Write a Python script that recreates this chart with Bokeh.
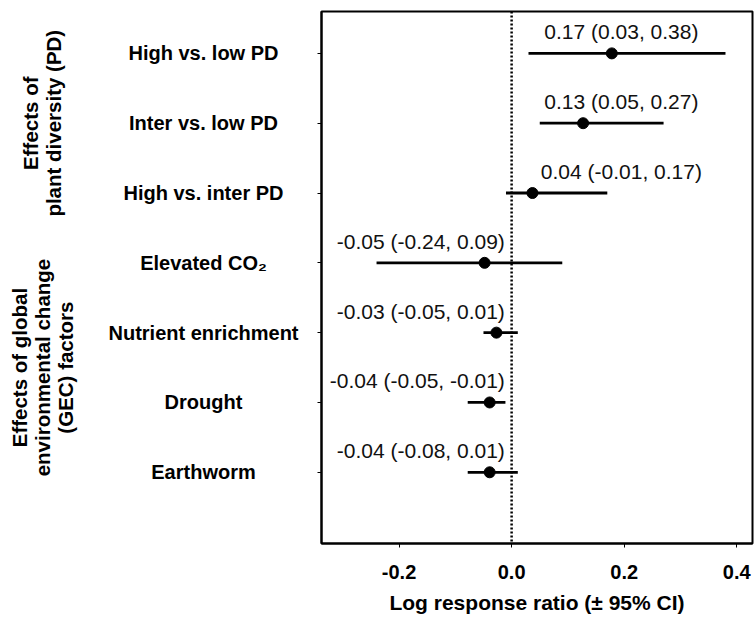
import math
from bokeh.plotting import figure
from bokeh.layouts import row
from bokeh.models import Range1d, FixedTicker, Span, ColumnDataSource
from bokeh.core.properties import value
from bokeh.embed import file_html
from bokeh.resources import INLINE

# ---- data ----
categories = ["High vs. low PD", "Inter vs. low PD", "High vs. inter PD",
              "Elevated CO\u2082", "Nutrient enrichment", "Drought", "Earthworm"]
estimates = [0.178, 0.127, 0.037, -0.048, -0.027, -0.039, -0.039]
lower = [0.03, 0.05, -0.01, -0.24, -0.05, -0.078, -0.078]
upper = [0.38, 0.27, 0.17, 0.09, 0.011, -0.011, 0.011]
ci_labels = ["0.17 (0.03, 0.38)", "0.13 (0.05, 0.27)", "0.04 (-0.01, 0.17)",
             "-0.05 (-0.24, 0.09)", "-0.03 (-0.05, 0.01)", "-0.04 (-0.05, -0.01)",
             "-0.04 (-0.08, 0.01)"]
group_labels = ["Effects of\nplant diversity (PD)",
                "Effects of global\nenvironmental change\n(GEC) factors"]
group_sizes = [3, 4]
x_ticks = [-0.2, 0.0, 0.2, 0.4]
x_title = "Log response ratio (\u00b1 95% CI)"

FONT = "Liberation Sans"
LEFT_W = 311
TOP, BOTTOM, H = 11, 82, 625
n = len(categories)
rows = [n - i for i in range(n)]
Y_RANGE = (-0.02, 7.6)

# ---------------- main forest plot ----------------
p = figure(width=755 - LEFT_W, height=H, output_backend="svg", toolbar_location=None,
           x_range=Range1d(-0.3378, 0.428), y_range=Range1d(*Y_RANGE),
           min_border_left=10, min_border_right=3, min_border_top=TOP,
           min_border_bottom=BOTTOM)
p.background_fill_color = "white"
p.border_fill_color = "white"
p.outline_line_color = "black"
p.outline_line_width = 2
p.xgrid.visible = False
p.ygrid.visible = False

p.xaxis.ticker = FixedTicker(ticks=x_ticks)
p.xaxis.major_label_overrides = {t: f"{t:.1f}" for t in x_ticks}
p.xaxis.major_tick_in = 0
p.xaxis.major_tick_out = 4
p.xaxis.minor_tick_line_color = None
p.xaxis.axis_line_width = 2
p.xaxis.major_label_text_font = FONT
p.xaxis.major_label_text_font_style = "bold"
p.xaxis.major_label_text_font_size = "20px"
p.xaxis.major_label_text_color = "black"
p.xaxis.major_label_standoff = 17
p.xaxis.axis_label = x_title
p.xaxis.axis_label_text_font = FONT
p.xaxis.axis_label_text_font_style = "bold"
p.xaxis.axis_label_text_font_size = "21px"
p.xaxis.axis_label_text_color = "black"
p.xaxis.axis_label_standoff = 9

p.yaxis.ticker = FixedTicker(ticks=rows)
p.yaxis.major_label_overrides = {r: "" for r in rows}
p.yaxis.major_tick_in = 0
p.yaxis.major_tick_out = 4
p.yaxis.minor_tick_line_color = None
p.yaxis.axis_line_width = 2

p.add_layout(Span(location=0, dimension="height", line_color="black",
                  line_width=2.5, line_dash="2 2"))

src = ColumnDataSource(dict(y=rows, est=estimates, lo=lower, hi=upper))
p.segment(x0="lo", y0="y", x1="hi", y1="y", source=src, line_color="black",
          line_width=2.8)
p.scatter(x="est", y="y", source=src, size=11, fill_color="black",
          line_color="black")

pos = [i for i in range(n) if estimates[i] > 0]
neg = [i for i in range(n) if estimates[i] <= 0]
src_pos = ColumnDataSource(dict(x=[0.195] * len(pos), y=[rows[i] + 0.31 for i in pos],
                                t=[ci_labels[i] for i in pos]))
src_neg = ColumnDataSource(dict(x=[-0.012] * len(neg), y=[rows[i] + 0.31 for i in neg],
                                t=[ci_labels[i] for i in neg]))
p.text(x="x", y="y", text="t", source=src_pos, text_align="center",
       text_baseline="middle", text_font=value(FONT), text_font_size="21px",
       text_color="#111111")
p.text(x="x", y="y", text="t", source=src_neg, text_align="right",
       text_baseline="middle", text_font=value(FONT), text_font_size="21px",
       text_color="#111111")

# ---------------- left label panel ----------------
lp = figure(width=LEFT_W, height=H, output_backend="svg", toolbar_location=None,
            x_range=Range1d(0, LEFT_W), y_range=Range1d(*Y_RANGE),
            min_border_left=0, min_border_right=0, min_border_top=TOP,
            min_border_bottom=BOTTOM)
lp.axis.visible = False
lp.grid.visible = False
lp.outline_line_color = None
lp.background_fill_color = "white"
lp.border_fill_color = "white"

lp.text(x=[203] * n, y=rows, text=categories, text_align="center",
        text_baseline="middle", text_font=value(FONT), text_font_style="bold",
        text_font_size="20px", text_color="black")

gx = [41, 42]
gy = []
start = 0
for s in group_sizes:
    ys = rows[start:start + s]
    gy.append(sum(ys) / len(ys))
    start += s
lp.text(x=gx, y=gy, text=group_labels, angle=math.pi / 2, text_align="center",
        text_baseline="middle", text_font=value(FONT), text_font_style="bold",
        text_font_size="20.5px", text_line_height=1.0, text_color="black")

layout = row(lp, p, spacing=0)
open("out.html", "w").write(file_html(layout, INLINE))
